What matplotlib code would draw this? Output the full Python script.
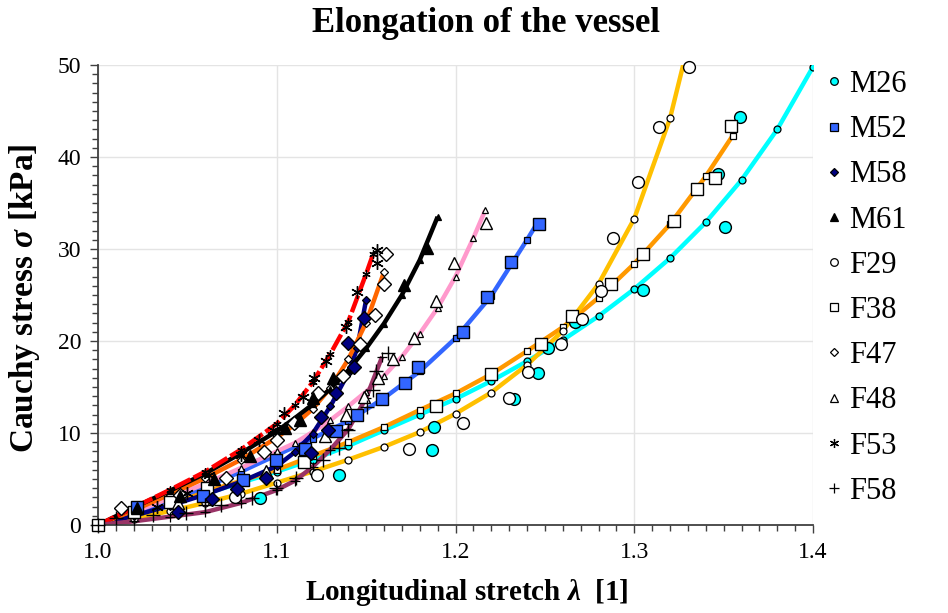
import matplotlib
matplotlib.use('Agg')
import matplotlib.pyplot as plt
from matplotlib.ticker import MultipleLocator, FormatStrFormatter
from matplotlib.lines import Line2D

plt.rcParams['font.family'] = ['Liberation Serif', 'DejaVu Serif']
plt.rcParams['mathtext.fontset'] = 'custom'
plt.rcParams['mathtext.rm'] = 'Liberation Serif:bold'
plt.rcParams['mathtext.it'] = 'Liberation Serif:italic:bold'
plt.rcParams['mathtext.bf'] = 'Liberation Serif:bold'

# ---------------- data ----------------
# fitted model curves (lambda, Cauchy stress kPa)
M26_fit_lam = [1.00, 1.02, 1.04, 1.06, 1.08, 1.10, 1.12, 1.14, 1.16, 1.18, 1.20, 1.22, 1.24, 1.26, 1.28, 1.30, 1.32, 1.34, 1.36, 1.38, 1.40]
M26_fit_sig = [0, 1.2, 2.3, 3.4, 4.6, 5.8, 7.1, 8.6, 10.3, 12.0, 13.7, 15.65, 17.8, 20.1, 22.7, 25.65, 29.0, 32.9, 37.5, 43.0, 49.8]

F38_fit_lam = [1.00, 1.02, 1.04, 1.06, 1.08, 1.10, 1.12, 1.14, 1.16, 1.18, 1.20, 1.22, 1.24, 1.26, 1.28, 1.30, 1.32, 1.34, 1.355]
F38_fit_sig = [0, 1.2, 2.4, 3.6, 4.8, 6.0, 7.5, 9.0, 10.65, 12.5, 14.3, 16.4, 18.9, 21.5, 24.7, 28.4, 32.7, 37.9, 42.3]

F29_fit_lam = [1.00, 1.02, 1.04, 1.06, 1.08, 1.10, 1.12, 1.14, 1.16, 1.18, 1.20, 1.22, 1.24, 1.26, 1.28, 1.30, 1.32, 1.335]
F29_fit_sig = [0, 0.7, 1.5, 2.4, 3.4, 4.6, 5.8, 7.1, 8.5, 10.1, 12.1, 14.4, 17.4, 21.1, 26.2, 33.3, 44.2, 56.0]

M52_fit_lam = [1.00, 1.02, 1.04, 1.06, 1.08, 1.10, 1.12, 1.14, 1.16, 1.18, 1.20, 1.22, 1.24, 1.246]
M52_fit_sig = [0, 1.3, 2.7, 4.1, 5.8, 7.6, 9.4, 11.3, 13.8, 16.7, 20.3, 24.9, 31.0, 32.9]

F48_fit_lam = [1.00, 1.02, 1.04, 1.06, 1.08, 1.10, 1.11, 1.12, 1.13, 1.14, 1.15, 1.16, 1.17, 1.18, 1.19, 1.20, 1.21, 1.2166]
F48_fit_sig = [0, 1.4, 2.9, 4.5, 6.2, 8.0, 8.9, 10.1, 11.4, 12.9, 14.5, 16.2, 18.3, 20.8, 23.6, 27.0, 31.2, 34.2]

M58_fit_lam = [1.00, 1.02, 1.04, 1.06, 1.08, 1.10, 1.11, 1.12, 1.13, 1.14, 1.145, 1.15]
M58_fit_sig = [0, 1.0, 2.1, 3.3, 4.7, 6.4, 7.9, 9.9, 12.9, 16.5, 19.2, 24.5]

F47_fit_lam = [1.00, 1.02, 1.04, 1.06, 1.08, 1.10, 1.11, 1.12, 1.13, 1.14, 1.15, 1.16]
F47_fit_sig = [0, 1.6, 3.3, 5.1, 7.1, 9.5, 10.9, 12.6, 14.9, 18.0, 22.0, 27.5]

M61_fit_lam = [1.00, 1.02, 1.04, 1.06, 1.08, 1.10, 1.11, 1.12, 1.13, 1.14, 1.15, 1.16, 1.17, 1.18, 1.19]
M61_fit_sig = [0, 1.9, 3.7, 5.6, 7.8, 10.2, 11.6, 13.1, 14.8, 16.8, 19.2, 21.9, 25.0, 28.8, 33.5]

F53_fit_lam = [1.00, 1.02, 1.04, 1.06, 1.08, 1.10, 1.11, 1.12, 1.13, 1.14, 1.15, 1.154]
F53_fit_sig = [0, 1.9, 3.8, 5.8, 8.2, 11.0, 13.0, 15.5, 18.6, 22.1, 27.3, 29.5]

F58_fit_lam = [1.00, 1.02, 1.04, 1.06, 1.08, 1.10, 1.11, 1.12, 1.13, 1.14, 1.15, 1.159]
F58_fit_sig = [0, 0.4, 0.9, 1.4, 2.4, 3.8, 4.8, 6.3, 8.2, 10.4, 13.8, 18.3]

# measured data points
M26_lam = [1.0905, 1.135, 1.187, 1.188, 1.2325, 1.246, 1.252, 1.267, 1.305, 1.351, 1.347, 1.359]
M26_sig = [2.9, 5.4, 8.2, 10.7, 13.7, 16.5, 19.2, 22.1, 25.5, 32.4, 38.1, 44.3]

M52_lam = [1.022, 1.0586, 1.081, 1.0995, 1.1157, 1.133, 1.145, 1.1589, 1.1717, 1.179, 1.204, 1.2177, 1.231, 1.2465]
M52_sig = [2.0, 3.2, 4.9, 7.1, 8.3, 10.2, 12.0, 13.7, 15.4, 17.2, 21.0, 24.8, 28.6, 32.7]

M58_lam = [1.0446, 1.064, 1.078, 1.094, 1.119, 1.1247, 1.1286, 1.133, 1.143, 1.140, 1.149]
M58_sig = [1.4, 2.8, 3.9, 5.1, 7.8, 11.7, 10.3, 14.3, 17.2, 19.8, 22.5]

M61_lam = [1.022, 1.046, 1.065, 1.085, 1.1046, 1.113, 1.12, 1.1315, 1.171, 1.184]
M61_sig = [1.8, 3.2, 5.0, 7.5, 10.5, 11.4, 13.8, 16.0, 26.1, 30.1]

F29_lam = [1.0767, 1.1225, 1.174, 1.2042, 1.23, 1.2407, 1.259, 1.271, 1.2815, 1.288, 1.302, 1.3137, 1.3307]
F29_sig = [3.0, 5.4, 8.26, 11.1, 13.8, 16.6, 19.7, 22.4, 25.4, 31.2, 37.3, 43.3, 49.8]

F38_lam = [1.0, 1.02, 1.04, 1.061, 1.115, 1.189, 1.22, 1.248, 1.2653, 1.287, 1.305, 1.322, 1.335, 1.345, 1.354]
F38_sig = [0.0, 1.4, 2.5, 4.0, 6.9, 12.9, 16.4, 19.7, 22.7, 26.2, 29.5, 33.0, 36.5, 37.7, 43.4]

F47_lam = [1.013, 1.046, 1.0715, 1.093, 1.1, 1.1096, 1.123, 1.137, 1.1465, 1.155, 1.16, 1.161]
F47_sig = [1.85, 3.3, 5.1, 7.9, 9.2, 11.1, 14.3, 16.2, 19.7, 22.8, 26.2, 29.5]

F48_lam = [1.0446, 1.094, 1.127, 1.139, 1.1488, 1.1566, 1.165, 1.177, 1.189, 1.199, 1.217]
F48_sig = [2.4, 5.9, 9.7, 12.0, 13.9, 16.0, 18.0, 20.3, 24.3, 28.5, 32.8]

F53_lam = [1.033, 1.05, 1.062, 1.08, 1.09, 1.0978, 1.104, 1.1146, 1.121, 1.1275, 1.139, 1.145, 1.156, 1.156]
F53_sig = [2.0, 3.5, 5.4, 7.6, 9.2, 10.3, 12.2, 13.9, 16.0, 17.8, 21.5, 25.3, 28.5, 29.9]

F58_lam = [1.0, 1.01, 1.0306, 1.049, 1.06, 1.069, 1.086, 1.0995, 1.111, 1.126, 1.135, 1.14, 1.1505, 1.154, 1.1555, 1.162]
F58_sig = [0.0, 0.8, 1.1, 1.3, 2.2, 2.2, 2.9, 4.0, 5.1, 7.1, 8.4, 10.3, 12.8, 14.7, 16.7, 18.7]

labels = ['M26', 'M52', 'M58', 'M61', 'F29', 'F38', 'F47', 'F48', 'F53', 'F58']

# ---------------- styles ----------------
ASTER = (6, 2, 0)
style = {
    'M26': dict(color='#00FFFF', marker='o', face='#00FFFF', ls='-'),
    'M52': dict(color='#3366FF', marker='s', face='#3366FF', ls='-'),
    'M58': dict(color='#000080', marker='D', face='#000080', ls='-'),
    'M61': dict(color='#000000', marker='^', face='#000000', ls='-'),
    'F29': dict(color='#FFC000', marker='o', face='white', ls='-'),
    'F38': dict(color='#FF9900', marker='s', face='white', ls='-'),
    'F47': dict(color='#FF6600', marker='D', face='white', ls='-'),
    'F48': dict(color='#FF99CC', marker='^', face='white', ls='-'),
    'F53': dict(color='#FF0000', marker=ASTER, face='none', ls=(0, (4, 0.8))),
    'F58': dict(color='#993366', marker='+', face='none', ls='-'),
}
big_size = {'o': 8.5, 's': 8.5, 'D': 7, '^': 8.5, ASTER: 9, '+': 10}
small_size = {'o': 5, 's': 5, 'D': 4, '^': 5, ASTER: 6, '+': 7}

fits = {
    'M26': (M26_fit_lam, M26_fit_sig), 'F38': (F38_fit_lam, F38_fit_sig),
    'F29': (F29_fit_lam, F29_fit_sig), 'M52': (M52_fit_lam, M52_fit_sig),
    'F48': (F48_fit_lam, F48_fit_sig), 'M58': (M58_fit_lam, M58_fit_sig),
    'F47': (F47_fit_lam, F47_fit_sig), 'M61': (M61_fit_lam, M61_fit_sig),
    'F53': (F53_fit_lam, F53_fit_sig), 'F58': (F58_fit_lam, F58_fit_sig),
}
data = {
    'M26': (M26_lam, M26_sig), 'M52': (M52_lam, M52_sig), 'M58': (M58_lam, M58_sig),
    'M61': (M61_lam, M61_sig), 'F29': (F29_lam, F29_sig), 'F38': (F38_lam, F38_sig),
    'F47': (F47_lam, F47_sig), 'F48': (F48_lam, F48_sig), 'F53': (F53_lam, F53_sig),
    'F58': (F58_lam, F58_sig),
}
draw_order = ['M26', 'F38', 'F29', 'M52', 'F48', 'M58', 'F47', 'M61', 'F53', 'F58']

# ---------------- figure ----------------
fig = plt.figure(figsize=(9.48, 6.13), dpi=100)
ax = fig.add_axes([98 / 948, 1 - 525 / 613, (813 - 98) / 948, (525 - 65) / 613])

for k in draw_order:
    st = style[k]
    lam, sig = fits[k]
    ax.plot(lam, sig, color=st['color'], lw=3.2, ls=st['ls'], zorder=2,
            solid_capstyle='butt', dash_capstyle='butt')

for k in draw_order:
    st = style[k]
    lam, sig = fits[k]
    m = st['marker']
    ax.plot(lam[1:], sig[1:], ls='none', marker=m, ms=small_size[m],
            mfc=st['face'], mec='black', mew=0.9, zorder=3)

for k in draw_order:
    st = style[k]
    lam, sig = data[k]
    m = st['marker']
    ax.plot(lam, sig, ls='none', marker=m, ms=big_size[m],
            mfc=st['face'], mec='black', mew=1.0, zorder=4, clip_on=False)

ax.set_xlim(1.0, 1.4)
ax.set_ylim(0, 50)
ax.xaxis.set_major_locator(MultipleLocator(0.1))
ax.xaxis.set_minor_locator(MultipleLocator(0.01))
ax.yaxis.set_major_locator(MultipleLocator(10))
ax.yaxis.set_minor_locator(MultipleLocator(1))
ax.xaxis.set_major_formatter(FormatStrFormatter('%.1f'))
ax.grid(True, which='major', color='#E4E4E4', lw=1.0)
ax.set_axisbelow(True)
for s in ['top', 'right']:
    ax.spines[s].set_visible(False)
for s in ['left', 'bottom']:
    ax.spines[s].set_color('#404040')
    ax.spines[s].set_linewidth(1.3)
ax.tick_params(which='major', direction='out', length=6, width=1.0, color='#404040',
               labelsize=17, pad=6)
ax.tick_params(which='minor', direction='out', length=4.5, width=1.0, color='#404040')

fig.text(486 / 948, 1 - 24 / 613, 'Elongation of the vessel', ha='center', va='center',
         fontsize=25, fontweight='bold')
fig.text(467 / 948, 1 - 592 / 613, r'Longitudinal stretch $\lambda$  [1]', ha='center',
         va='center', fontsize=21, fontweight='bold')
fig.text(25 / 948, 1 - 298 / 613, r'Cauchy stress $\sigma$ [kPa]', ha='center', va='center',
         rotation=90, fontsize=24, fontweight='bold')

handles = []
for k in labels:
    st = style[k]
    m = st['marker']
    handles.append(Line2D([], [], ls='none', marker=m, ms=small_size[m] + 0.5,
                          mfc=st['face'], mec='black', mew=0.9))
fig.legend(handles, labels, loc='upper left', bbox_to_anchor=(826 / 948, 1 - 70 / 613),
           frameon=False, fontsize=22, labelspacing=0.53, handlelength=0.5,
           handletextpad=0.25, borderpad=0, borderaxespad=0)

fig.savefig('out.png', dpi=100)
